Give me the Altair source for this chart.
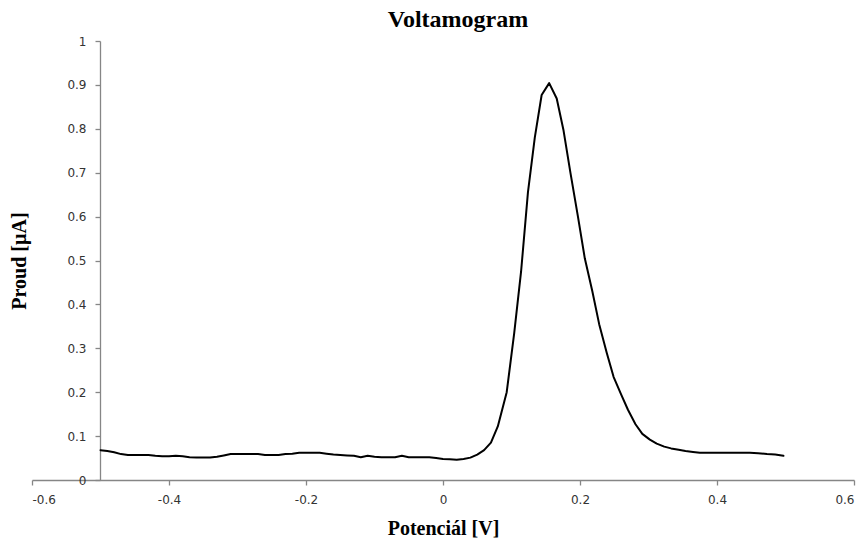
import altair as alt
import pandas as pd

potential = [
    -0.500, -0.490, -0.480, -0.470, -0.460, -0.450, -0.440, -0.430, -0.420, -0.410,
    -0.400, -0.390, -0.380, -0.370, -0.360, -0.350, -0.340, -0.330, -0.320, -0.310,
    -0.300, -0.290, -0.280, -0.270, -0.260, -0.250, -0.240, -0.230, -0.220, -0.210,
    -0.200, -0.190, -0.180, -0.170, -0.160, -0.150, -0.140, -0.130, -0.120, -0.110,
    -0.100, -0.090, -0.080, -0.070, -0.060, -0.050, -0.040, -0.030, -0.020, -0.010,
    0.000, 0.010, 0.020, 0.030, 0.040, 0.050, 0.060, 0.070, 0.080,
    0.093, 0.104, 0.114, 0.124, 0.134, 0.144, 0.155, 0.166, 0.176, 0.186,
    0.197, 0.207, 0.218, 0.228, 0.239, 0.249, 0.260, 0.270, 0.281, 0.291,
    0.302, 0.312, 0.323, 0.333, 0.344, 0.354, 0.365, 0.375, 0.390, 0.410,
    0.430, 0.448, 0.460, 0.473, 0.485, 0.497,
]
current = [
    0.068, 0.066, 0.063, 0.059, 0.057, 0.057, 0.057, 0.057, 0.055, 0.054,
    0.054, 0.055, 0.054, 0.052, 0.051, 0.051, 0.051, 0.053, 0.056, 0.059,
    0.059, 0.059, 0.059, 0.059, 0.057, 0.057, 0.057, 0.059, 0.060, 0.062,
    0.062, 0.062, 0.062, 0.060, 0.058, 0.057, 0.056, 0.055, 0.052, 0.055,
    0.053, 0.052, 0.052, 0.052, 0.055, 0.052, 0.052, 0.052, 0.052, 0.050,
    0.048, 0.047, 0.046, 0.048, 0.051, 0.058, 0.068, 0.085, 0.122,
    0.200, 0.335, 0.475, 0.655, 0.780, 0.877, 0.904, 0.869, 0.796, 0.700,
    0.600, 0.505, 0.430, 0.355, 0.290, 0.235, 0.195, 0.160, 0.127, 0.105,
    0.092, 0.083, 0.076, 0.072, 0.069, 0.066, 0.064, 0.062, 0.062, 0.062,
    0.062, 0.062, 0.061, 0.059, 0.058, 0.055,
]

x_ticks = [-0.6, -0.4, -0.2, 0, 0.2, 0.4, 0.6]
y_ticks = [0, 0.1, 0.2, 0.3, 0.4, 0.5, 0.6, 0.7, 0.8, 0.9, 1]

df = pd.DataFrame({"potential": potential, "current": current, "order": list(range(len(potential)))})

label_font = "DejaVu Sans"
title_font = "Liberation Serif"

chart = alt.Chart(df).mark_line(color="black", strokeWidth=2, strokeJoin="round", strokeCap="round").encode(
    x=alt.X(
        "potential:Q",
        scale=alt.Scale(domain=[-0.6, 0.6], nice=False, zero=False),
        axis=alt.Axis(
            values=x_ticks,
            format="~g",
            labelExpr="replace(datum.label, '\u2212', '-')",
            title="Potenciál [V]",
            titleFont=title_font,
            titleFontSize=20,
            titleFontWeight="bold",
            titleColor="black",
            titleY=54,
            titleBaseline="alphabetic",
            labelFont=label_font,
            labelFontSize=12,
            labelColor="#333333",
            labelPadding=9,
            domainColor="#868686",
            domainWidth=1.3,
            tickColor="#868686",
            tickSize=5,
            tickWidth=1.3,
            grid=False,
        ),
    ),
    y=alt.Y(
        "current:Q",
        scale=alt.Scale(domain=[0, 1], nice=False),
        axis=alt.Axis(
            values=y_ticks,
            format="~g",
            title="Proud [µA]",
            titleFont=title_font,
            titleFontSize=20,
            titleFontWeight="bold",
            titleColor="black",
            titleX=-75,
            titleBaseline="alphabetic",
            labelFont=label_font,
            labelFontSize=12,
            labelColor="#333333",
            labelPadding=9,
            domainColor="#868686",
            domainWidth=1.3,
            tickColor="#868686",
            tickSize=5,
            tickWidth=1.3,
            grid=False,
            offset=-68,
        ),
    ),
    order="order:Q",
).properties(
    width=822,
    height=439,
    autosize=alt.AutoSizeParams(type="none"),
    padding={"left": 32, "top": 41, "right": 11, "bottom": 60},
    title=alt.TitleParams(
        "Voltamogram",
        font=title_font,
        fontSize=24,
        fontWeight="bold",
        color="black",
        anchor="middle",
        baseline="alphabetic",
        offset=13,
        dx=15,
        dy=29,
    ),
).configure(background="white").configure_view(stroke=None)

chart.save("out.html", embed_options={"renderer": "svg", "actions": False})
